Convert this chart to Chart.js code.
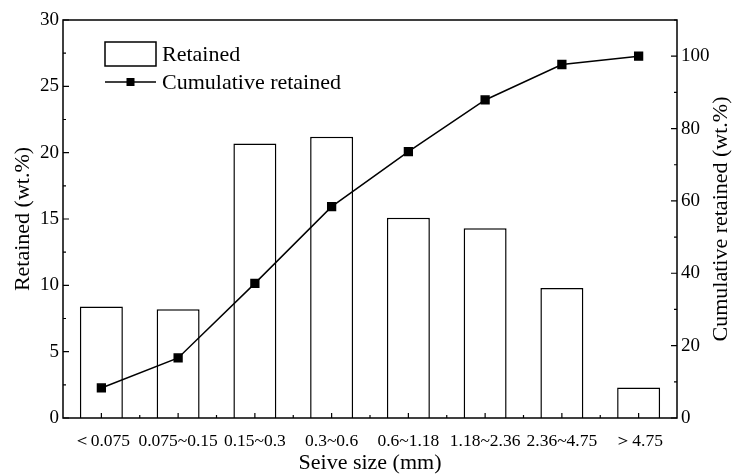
<!DOCTYPE html>
<html>
<head>
<meta charset="utf-8">
<script src="https://cdn.jsdelivr.net/npm/chart.js@4"></script>
<style>
  html, body { margin: 0; padding: 0; background: #fff; }
  #wrap { width: 732px; height: 474px; }
</style>
</head>
<body>
<div id="wrap"><canvas id="sieveChart" width="732" height="474"></canvas></div>
<script>
// data
const sieveSizes = ['＜0.075', '0.075~0.15', '0.15~0.3', '0.3~0.6', '0.6~1.18', '1.18~2.36', '2.36~4.75', '＞4.75'];
const retained = [8.4, 8.2, 20.7, 21.2, 15.1, 14.3, 9.8, 2.3];
const cumulative = [8.3, 16.6, 37.2, 58.4, 73.6, 87.9, 97.7, 100];
const leftTicks = [0, 5, 10, 15, 20, 25, 30];
const rightTicks = [0, 20, 40, 60, 80, 100];

const serif = '"Liberation Serif", "Times New Roman", serif';

// inward ticks, frame, legend and right title
const framePlugin = {
    id: 'frame',
    afterDraw(chart) {
        const ctx = chart.ctx;
        const area = chart.chartArea;
        const x = chart.scales.x, yL = chart.scales.y, yR = chart.scales.y2;
        ctx.save();
        ctx.strokeStyle = '#000';
        ctx.lineWidth = 1.5;
        ctx.strokeRect(area.left, area.top, area.right - area.left, area.bottom - area.top);

        ctx.lineWidth = 1.2;
        ctx.beginPath();
        // left axis major + minor
        leftTicks.forEach(v => {
            const py = yL.getPixelForValue(v);
            ctx.moveTo(area.left, py); ctx.lineTo(area.left + 6, py);
            if (v < 30) {
                const my = yL.getPixelForValue(v + 2.5);
                ctx.moveTo(area.left, my); ctx.lineTo(area.left + 3, my);
            }
        });
        // right axis
        rightTicks.forEach(v => {
            const py = yR.getPixelForValue(v);
            ctx.moveTo(area.right, py); ctx.lineTo(area.right - 6, py);
            const my = yR.getPixelForValue(v + 10);
            ctx.moveTo(area.right, my); ctx.lineTo(area.right - 3, my);
        });
        // bottom axis: centres and boundaries
        sieveSizes.forEach((s, i) => {
            const px = x.getPixelForValue(i);
            ctx.moveTo(px, area.bottom); ctx.lineTo(px, area.bottom - 5);
            if (i > 0) {
                const bx = x.getPixelForValue(i - 0.5);
                ctx.moveTo(bx, area.bottom); ctx.lineTo(bx, area.bottom - 3);
            }
        });
        ctx.stroke();

        // legend
        ctx.lineWidth = 1.5;
        ctx.strokeRect(105, 42, 51, 24);
        ctx.beginPath();
        ctx.moveTo(105, 82); ctx.lineTo(156, 82);
        ctx.stroke();
        ctx.fillStyle = '#000';
        ctx.fillRect(126.5, 78, 8, 8);
        ctx.font = '22px ' + serif;
        ctx.textBaseline = 'middle';
        ctx.textAlign = 'left';
        ctx.fillText('Retained', 162, 55);
        ctx.fillText('Cumulative retained', 162, 83);

        // right axis title, reading bottom to top
        ctx.translate(721, (area.top + area.bottom) / 2);
        ctx.rotate(-Math.PI / 2);
        ctx.textAlign = 'center';
        ctx.fillText('Cumulative retained (wt.%)', 0, 0);
        ctx.restore();
    }
};

new Chart(document.getElementById('sieveChart'), {
    data: {
        labels: sieveSizes,
        datasets: [
            {
                type: 'line',
                label: 'Cumulative retained',
                data: cumulative,
                yAxisID: 'y2',
                borderColor: '#000',
                borderWidth: 1.5,
                backgroundColor: '#000',
                pointStyle: 'rect',
                pointRadius: 5.5,
                tension: 0,
                order: 0
            },
            {
                type: 'bar',
                label: 'Retained',
                data: retained,
                yAxisID: 'y',
                backgroundColor: '#fff',
                borderColor: '#000',
                borderWidth: 1.5,
                barPercentage: 0.56,
                categoryPercentage: 1,
                order: 1
            }
        ]
    },
    options: {
        responsive: false,
        animation: false,
        layout: { padding: { top: 20, left: 0, right: 0, bottom: 0 } },
        plugins: { legend: { display: false }, tooltip: { enabled: false } },
        scales: {
            x: {
                grid: { display: false, drawTicks: false },
                border: { display: false },
                ticks: { color: '#000', font: { family: serif, size: 17.5 }, padding: 13, maxRotation: 0, autoSkip: false },
                title: { display: true, text: 'Seive size (mm)', color: '#000', font: { family: serif, size: 22 }, padding: { top: 0, bottom: -2 } },
                afterFit(scale) { scale.height = 56; }
            },
            y: {
                position: 'left',
                min: 0, max: 30,
                grid: { display: false, drawTicks: false },
                border: { display: false },
                ticks: { stepSize: 5, color: '#000', font: { family: serif, size: 19 }, padding: 4 },
                title: { display: true, text: 'Retained (wt.%)', color: '#000', font: { family: serif, size: 22 }, padding: { top: 10, bottom: 0 } },
                afterFit(scale) { scale.width = 63; }
            },
            y2: {
                position: 'right',
                min: 0, max: 110,
                grid: { display: false, drawTicks: false },
                border: { display: false },
                ticks: { stepSize: 20, color: '#000', font: { family: serif, size: 19 }, padding: 4 },
                afterBuildTicks(scale) { scale.ticks = scale.ticks.filter(t => t.value % 20 === 0); },
                afterFit(scale) { scale.width = 55; }
            }
        }
    },
    plugins: [framePlugin]
});
</script>
</body>
</html>
